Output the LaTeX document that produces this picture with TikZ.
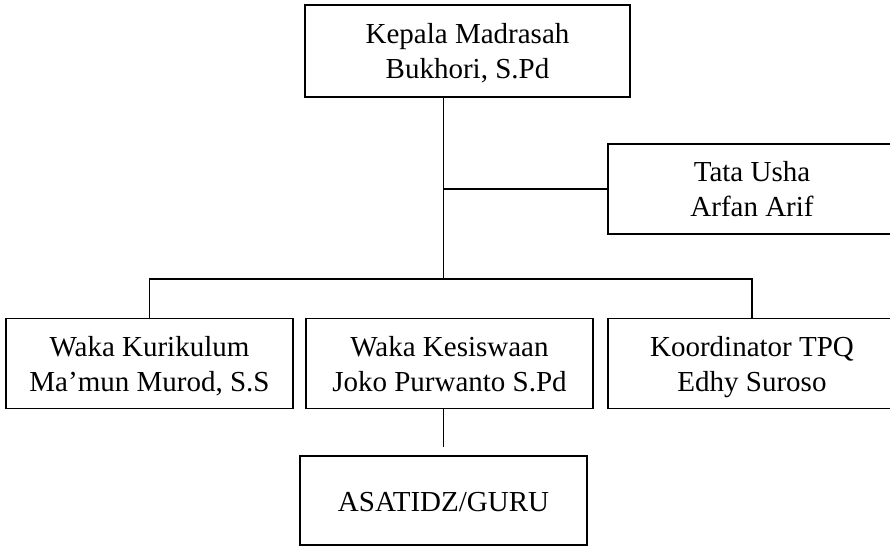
\documentclass[tikz,border=0pt]{standalone}
\usepackage{fontspec}
\setmainfont{Liberation Serif}
\usetikzlibrary{positioning}
\tikzset{jabatan/.style={draw,line width=1.2pt,align=center,inner sep=0pt,
    font=\fontsize{29}{35}\selectfont,text height=65.5pt,text depth=10.5pt},
  garis/.style={line width=1.2pt}}

\begin{document}
\begin{tikzpicture}[x=1pt,y=1pt]
	\useasboundingbox (0,0) rectangle (890,-546);
	\clip (0,0) rectangle (890,-546);
	\node[jabatan,minimum width=325,minimum height=92] (kepala) at (467.5,-51) {Kepala Madrasah\\Bukhori, S.Pd};
	\node[jabatan,minimum width=288,minimum height=90] (tu) at (752,-189) {Tata Usha\\Arfan Arif};
	\node[jabatan,minimum width=287,minimum height=90] (kurikulum) at (149.5,-363.5) {Waka Kurikulum\\Ma’mun Murod, S.S};
	\node[jabatan,minimum width=287,minimum height=90] (kesiswaan) at (449.5,-363.5) {Waka Kesiswaan\\Joko Purwanto S.Pd};
	\node[jabatan,minimum width=288,minimum height=90] (tpq) at (752,-363.5) {Koordinator TPQ\\Edhy Suroso};
	\node[jabatan,text height=31.5pt,minimum width=287,minimum height=89] (guru) at (443.5,-500.5) {ASATIDZ/GURU};
	\coordinate (cabang) at (443.5,-279);
	\draw[garis] (kepala.south -| cabang) -- (cabang);
	\draw[garis] (tu.west) -- (tu.west -| cabang);
	\draw[garis] (kurikulum.north) |- (cabang) -| (tpq.north);
	\draw[garis,shorten >=8pt] (kesiswaan.south -| guru.north) -- (guru.north);
\end{tikzpicture}
\end{document}
